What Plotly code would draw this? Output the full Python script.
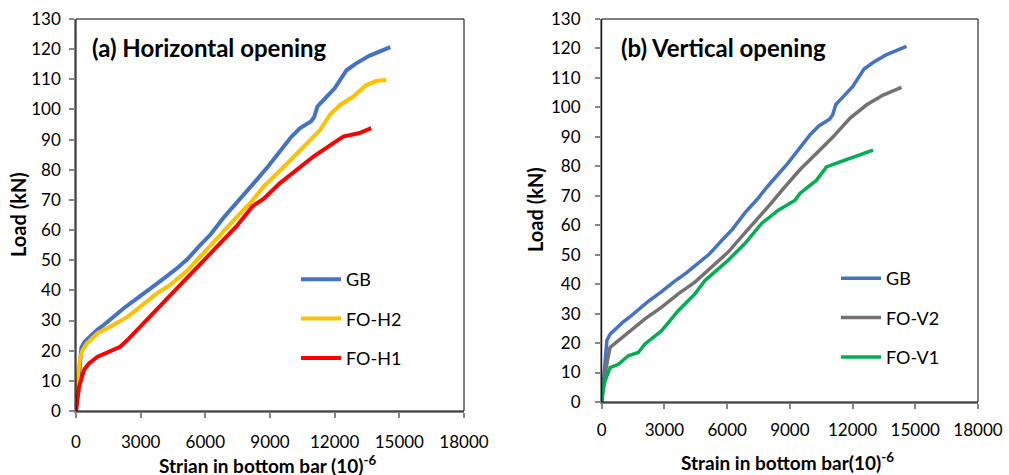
import plotly.graph_objects as go

# ---- data ----
gb_x = [0, 60, 150, 200, 250, 400, 700, 1000, 1300, 1750, 2200, 2850, 3450, 4050, 4700, 5150, 5750, 6250, 6850,
        7450, 7900, 8400, 8900, 9450, 10000, 10400, 10900, 11050, 11200, 11600, 12000, 12550, 13000, 13600, 14000, 14580]
gb_y = [0, 6, 14, 20, 21, 23, 25.2, 27, 28.6, 31.3, 34, 37.4, 40.8, 43.8, 47.4, 50.2, 54.9, 58.6, 64.2,
        68.9, 72.9, 76.8, 81, 86, 91, 93.8, 96, 97.5, 101, 104, 107, 113, 115.3, 117.8, 119, 120.7]

h2_x = [0, 50, 100, 200, 300, 500, 1000, 1750, 2400, 3000, 3750, 4400, 5150, 5900, 6700, 7450, 8150, 8700,
        9500, 10250, 10800, 11300, 11800, 12250, 12850, 13450, 13950, 14400]
h2_y = [0, 7, 12.5, 18, 20, 22.4, 25.8, 28.6, 31.3, 34.7, 39, 42, 46.5, 52.3, 58.7, 64.3, 69.5, 74.4,
        80, 85.5, 89.5, 93, 98.5, 101.5, 104.2, 108, 109.5, 109.8]

h1_x = [0, 50, 140, 370, 600, 1000, 1600, 2050, 2450, 2850, 3600, 4400, 5150, 5900, 6700, 7450, 8200, 8700,
        9450, 10250, 11000, 11800, 12400, 13150, 13700]
h1_y = [0, 4, 8, 13.6, 15.8, 18, 19.7, 21.3, 24, 27, 32.4, 38.7, 44.3, 49.8, 55.6, 61.3, 68, 70.3,
        75.5, 80, 84.3, 88.2, 91, 92.2, 93.8]

v2_x = [0, 80, 160, 300, 400, 800, 1270, 2070, 2870, 3660, 4460, 5260, 6050, 6850, 7600, 8100, 8700, 9500,
        10280, 11070, 11870, 12660, 13460, 14340]
v2_y = [0, 5, 9.4, 15, 18.5, 20.8, 23.6, 28.2, 32.2, 36.7, 40.7, 45.8, 50.9, 57.4, 63.3, 67.4, 72.5, 79,
        84.4, 90, 96.3, 100.8, 104.2, 106.8]

v1_x = [0, 60, 160, 300, 400, 800, 1270, 1750, 2070, 2870, 3660, 4460, 4950, 6050, 6850, 7650, 8450, 9250,
        9480, 10280, 10750, 11400, 11870, 12350, 12980]
v1_y = [0, 4, 7.2, 10, 11.7, 12.8, 15.7, 16.8, 19.7, 24.2, 31, 36.7, 41.3, 48.1, 53.8, 60.6, 65.1, 68.5,
        70.8, 75.3, 79.8, 81.5, 82.7, 83.8, 85.5]

x_ticks = [0, 3000, 6000, 9000, 12000, 15000, 18000]
x_ticktext = ["0", "3000", "6000", "9000", "12000", "15000", "18000"]
y_ticks = list(range(0, 131, 10))
y_ticktext = [str(v) for v in y_ticks]

FONT = "Lato"
W, H = 1009, 475

fig = go.Figure()

def add(x, y, name, color, xa, ya, leg, width):
    fig.add_trace(go.Scatter(x=x, y=y, mode="lines", name=name, xaxis=xa, yaxis=ya,
                             line=dict(color=color, width=width, shape="linear"),
                             legend=leg, legendgroup=leg + name))

add(gb_x, gb_y, "GB", "#4472C4", "x", "y", "legend", 4)
add(h2_x, h2_y, "FO-H2", "#FFC000", "x", "y", "legend", 4)
add(h1_x, h1_y, "FO-H1", "#FF0000", "x", "y", "legend", 4)
add(gb_x, gb_y, "GB", "#4472C4", "x2", "y2", "legend2", 3.5)
add(v2_x, v2_y, "FO-V2", "#767171", "x2", "y2", "legend2", 3.5)
add(v1_x, v1_y, "FO-V1", "#00B050", "x2", "y2", "legend2", 3.5)

def xaxis(domain, anchor, standoff):
    return dict(domain=domain, anchor=anchor, range=[0, 18000], tickvals=x_ticks, ticktext=x_ticktext,
                showgrid=False, zeroline=False, showline=True, linecolor="#868686", linewidth=1.5,
                ticks="outside", ticklen=5, tickcolor="#868686", tickwidth=1.5, automargin=False,
                tickfont=dict(family=FONT, size=17, color="#000000"), ticklabelstandoff=standoff)

def yaxis(domain, anchor, standoff):
    return dict(domain=domain, anchor=anchor, range=[0, 130], tickvals=y_ticks, ticktext=y_ticktext,
                showgrid=False, zeroline=False, showline=True, linecolor="#868686", linewidth=1.5,
                ticks="outside", ticklen=5, tickcolor="#868686", tickwidth=1.5, automargin=False,
                tickfont=dict(family=FONT, size=17, color="#000000"), ticklabelstandoff=standoff)

lx = [76 / W, 464 / W]
rx = [601.7 / W, 978 / W]
ly = [(H - 411) / H, (H - 19) / H]
ry = [(H - 402) / H, (H - 19) / H]

fig.update_layout(
    width=W, height=H, margin=dict(l=0, r=0, t=0, b=0),
    paper_bgcolor="white", plot_bgcolor="white",
    xaxis=xaxis(lx, "y", 10), yaxis=yaxis(ly, "x", 5),
    xaxis2=xaxis(rx, "y2", 7), yaxis2=yaxis(ry, "x2", 11),
    legend=dict(x=296 / W, y=(H - 261) / H, xanchor="left", yanchor="top",
                font=dict(family=FONT, size=18, color="#000000"), tracegroupgap=13,
                itemwidth=40, bgcolor="rgba(0,0,0,0)"),
    legend2=dict(x=836 / W, y=(H - 260) / H, xanchor="left", yanchor="top",
                 font=dict(family=FONT, size=18, color="#000000"), tracegroupgap=13,
                 itemwidth=40, bgcolor="rgba(0,0,0,0)"),
    showlegend=True,
)

# plot-area frames
for xr, yr in (("x domain", "y domain"), ("x2 domain", "y2 domain")):
    fig.add_shape(type="rect", xref=xr, yref=yr, x0=0, x1=1, y0=0, y1=1,
                  line=dict(color="#000000", width=1), layer="above")

ann = [
    dict(text="<b>(a) Horizontal opening</b>", x=90 / W, y=(H - 47) / H, xanchor="left", yanchor="middle", size=24),
    dict(text="<b>(b) Vertical opening</b>", x=619 / W, y=(H - 47) / H, xanchor="left", yanchor="middle", size=24),
    dict(text="<b>Strian in bottom bar (10)<sup>-6</sup></b>", x=268 / W, y=(H - 464) / H, xanchor="center", yanchor="middle", size=19),
    dict(text="<b>Strain in bottom bar(10)<sup>-6</sup></b>", x=787 / W, y=(H - 461) / H, xanchor="center", yanchor="middle", size=19),
]
for a in ann:
    fig.add_annotation(text=a["text"], x=a["x"], y=a["y"], xref="paper", yref="paper",
                       xanchor=a["xanchor"], yanchor=a["yanchor"], showarrow=False,
                       font=dict(family=FONT, size=a["size"], color="#000000"))
for xp, yp in ((18, 215), (535, 210)):
    fig.add_annotation(text="<b>Load (kN)</b>", x=xp / W, y=(H - yp) / H, xref="paper", yref="paper",
                       xanchor="center", yanchor="middle", showarrow=False, textangle=-90,
                       font=dict(family=FONT, size=20, color="#000000"))

fig.write_html("out.html", config={"displayModeBar": False},
               post_script="document.body.style.margin='0px';document.body.style.overflow='hidden';")
